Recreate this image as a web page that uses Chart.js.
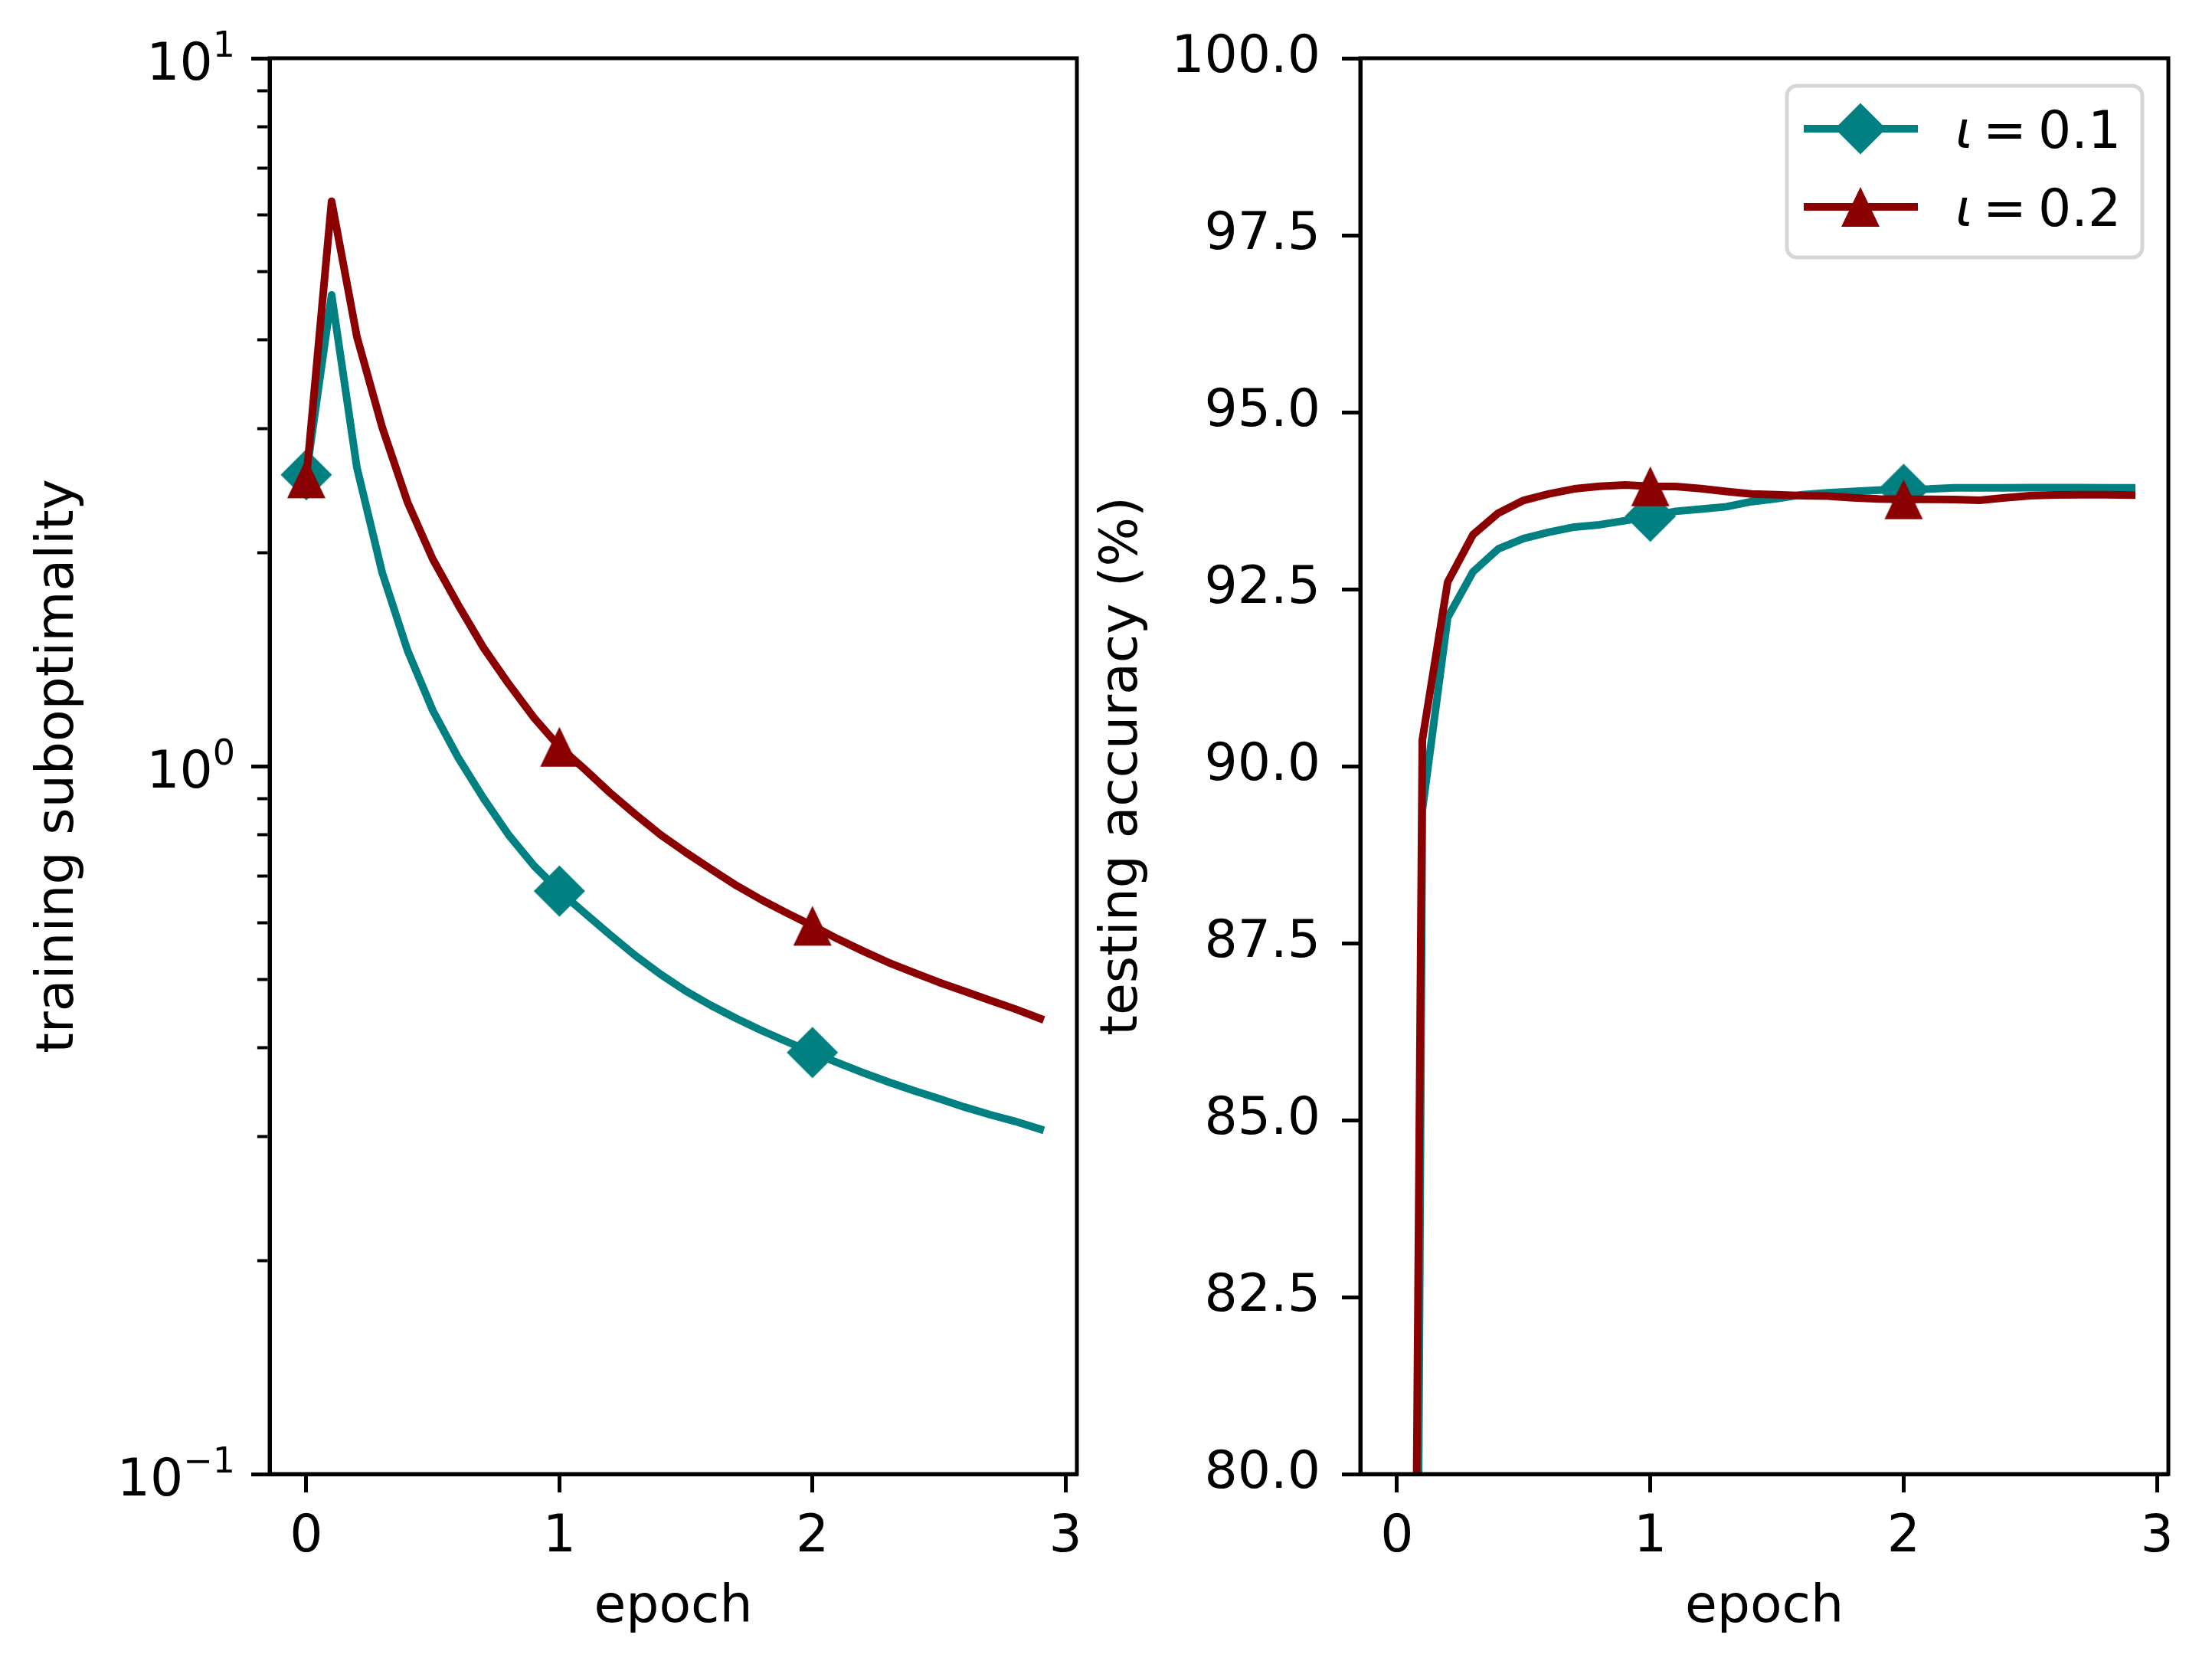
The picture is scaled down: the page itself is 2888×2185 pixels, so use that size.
<!DOCTYPE html>
<html>
<head>
<meta charset="utf-8">
<script src="https://cdn.jsdelivr.net/npm/chart.js@4.4.1/dist/chart.umd.min.js"></script>
<style>
html, body { margin: 0; padding: 0; background: #ffffff; }
#wrap { position: relative; width: 2888px; height: 2185px; background: #ffffff; }
canvas { position: absolute; left: 0; top: 0; }
</style>
</head>
<body>
<div id="wrap">
  <canvas id="lossChart" width="2888" height="2185"></canvas>
  <canvas id="accChart" width="2888" height="2185"></canvas>
</div>
<script>
// ---------------- data ----------------
const epochs = [0, 0.1, 0.2, 0.3, 0.4, 0.5, 0.6, 0.7, 0.8, 0.9,
                1.0, 1.1, 1.2, 1.3, 1.4, 1.5, 1.6, 1.7, 1.8, 1.9,
                2.0, 2.1, 2.2, 2.3, 2.4, 2.5, 2.6, 2.7, 2.8, 2.9];

const seriesLabels = ['ι = 0.1', 'ι = 0.2'];

// training suboptimality (log scale)
const lossIota01 = [2.58, 4.63, 2.64, 1.876, 1.457, 1.198, 1.028, 0.901, 0.799, 0.723,
                    0.666, 0.620, 0.578, 0.540, 0.508, 0.481, 0.459, 0.440, 0.423, 0.408,
                    0.394, 0.381, 0.369, 0.358, 0.348, 0.339, 0.330, 0.322, 0.315, 0.307];
const lossIota02 = [2.55, 6.28, 4.04, 3.01, 2.36, 1.96, 1.69, 1.47, 1.306, 1.17,
                    1.065, 0.990, 0.917, 0.855, 0.800, 0.755, 0.715, 0.678, 0.647, 0.620,
                    0.595, 0.570, 0.548, 0.528, 0.511, 0.495, 0.481, 0.467, 0.454, 0.440];

// testing accuracy (%)
const accIota01 = [26, 89.38, 92.10, 92.745, 93.07, 93.215, 93.305, 93.377, 93.41, 93.467,
                   93.53, 93.60, 93.63, 93.665, 93.737, 93.78, 93.835, 93.86, 93.88, 93.90,
                   93.91, 93.915, 93.93, 93.93, 93.93, 93.935, 93.935, 93.935, 93.93, 93.93];
const accIota02 = [44, 90.37, 92.60, 93.27, 93.575, 93.755, 93.845, 93.917, 93.953, 93.971,
                   93.953, 93.95, 93.92, 93.88, 93.845, 93.835, 93.82, 93.815, 93.79, 93.775,
                   93.77, 93.77, 93.765, 93.755, 93.79, 93.82, 93.83, 93.835, 93.835, 93.83];

// ticks
const xTicks = [0, 1, 2, 3];
const xTickLabels = ['0', '1', '2', '3'];
const lossTickValues = [0.1, 0.2, 0.3, 0.4, 0.5, 0.6, 0.7, 0.8, 0.9,
                        1, 2, 3, 4, 5, 6, 7, 8, 9, 10];
const lossMajorTicks = [0.1, 1, 10];
const lossTickBase = ['10', '10', '10'];
const lossTickExponents = ['−1', '0', '1'];
const accTicks = [80, 82.5, 85, 87.5, 90, 92.5, 95, 97.5, 100];
const accTickLabels = ['80.0', '82.5', '85.0', '87.5', '90.0', '92.5', '95.0', '97.5', '100.0'];

// ---------------- style ----------------
const FONT = 'DejaVu Sans';
const FS = 68;
const SUP_FS = 46;
const TEAL = '#008080';
const DARKRED = '#8b0000';
const X_MIN = -0.145, X_MAX = 3.045;

function makeDiamond(color) {
  const c = document.createElement('canvas');
  c.width = 68; c.height = 68;
  const g = c.getContext('2d');
  g.fillStyle = color;
  g.beginPath();
  g.moveTo(34, 0.5); g.lineTo(67.5, 34); g.lineTo(34, 67.5); g.lineTo(0.5, 34);
  g.closePath(); g.fill();
  return c;
}
function makeTriangle(color) {
  const c = document.createElement('canvas');
  c.width = 52; c.height = 54;
  const g = c.getContext('2d');
  g.fillStyle = color;
  g.beginPath();
  g.moveTo(26, 1); g.lineTo(51, 53); g.lineTo(1, 53);
  g.closePath(); g.fill();
  return c;
}
const diamondTeal = makeDiamond(TEAL);
const triangleRed = makeTriangle(DARKRED);

function pts(arr) { return epochs.map((e, i) => ({ x: e, y: arr[i] })); }

function makeDatasets(a, b) {
  const markerRadius = (ctx) => (ctx.dataIndex % 10 === 0 ? 30 : 0);
  return [
    { label: seriesLabels[0], data: pts(a), borderColor: TEAL, backgroundColor: TEAL,
      borderWidth: 10, pointStyle: diamondTeal, pointRadius: markerRadius, pointHoverRadius: 0,
      tension: 0, borderJoinStyle: 'round', borderCapStyle: 'square', order: 1, clip: 0 },
    { label: seriesLabels[1], data: pts(b), borderColor: DARKRED, backgroundColor: DARKRED,
      borderWidth: 10, pointStyle: triangleRed, pointRadius: markerRadius, pointHoverRadius: 0,
      tension: 0, borderJoinStyle: 'round', borderCapStyle: 'square', order: 0, clip: 0 }
  ];
}

function xScale() {
  return {
    type: 'linear', min: X_MIN, max: X_MAX,
    afterBuildTicks: (s) => { s.ticks = xTicks.map(v => ({ value: v })); },
    afterFit: (s) => { s.height = 261; },
    grid: { drawOnChartArea: false, drawTicks: true, tickLength: 24, tickWidth: 5, tickColor: '#000' },
    border: { display: true, color: '#000', width: 5 },
    ticks: { color: '#000', font: { family: FONT, size: FS }, padding: 19, maxRotation: 0,
             autoSkip: false, callback: (v, i) => xTickLabels[i] },
    title: { display: true, text: 'epoch', color: '#000',
             font: { family: FONT, size: FS, lineHeight: 1.2 }, padding: { top: 0, bottom: 45 } }
  };
}

const spines = {
  id: 'spines',
  afterDatasetsDraw(chart) {
    const { ctx, chartArea: a } = chart;
    ctx.save();
    ctx.strokeStyle = '#000';
    ctx.lineWidth = 5;
    ctx.strokeRect(a.left, a.top, a.right - a.left, a.bottom - a.top);
    ctx.restore();
  }
};

// power-of-ten labels (10 with a raised exponent) placed through the y scale
const powerLabels = {
  id: 'powerLabels',
  afterDraw(chart) {
    const scale = chart.scales.y;
    const ctx = chart.ctx;
    const right = scale.right - 24 - 21;
    ctx.save();
    ctx.fillStyle = '#000';
    ctx.textAlign = 'right';
    ctx.textBaseline = 'alphabetic';
    lossMajorTicks.forEach((v, k) => {
      const y = scale.getPixelForValue(v);
      ctx.font = SUP_FS + 'px "' + FONT + '"';
      const sup = lossTickExponents[k];
      ctx.fillText(sup, right, y - 2);
      const w = ctx.measureText(sup).width;
      ctx.font = FS + 'px "' + FONT + '"';
      ctx.fillText(lossTickBase[k], right - w, y + 28);
    });
    ctx.restore();
  }
};

const mplLegend = {
  id: 'mplLegend',
  afterDraw(chart) {
    const ctx = chart.ctx;
    ctx.save();
    ctx.beginPath();
    ctx.roundRect(2333, 112, 464, 224, 13);
    ctx.fillStyle = 'rgba(255,255,255,0.8)';
    ctx.fill();
    ctx.lineWidth = 5;
    ctx.strokeStyle = '#d6d6d6';
    ctx.stroke();
    chart.data.datasets.forEach((ds, i) => {
      const y = 168 + i * 102;
      ctx.beginPath();
      ctx.strokeStyle = ds.borderColor;
      ctx.lineWidth = ds.borderWidth;
      ctx.lineCap = 'butt';
      ctx.moveTo(2355, y); ctx.lineTo(2504, y);
      ctx.stroke();
      const img = ds.pointStyle;
      ctx.drawImage(img, 2429 - img.width / 2, y - img.height / 2);
      const label = ds.label;
      ctx.fillStyle = '#000';
      ctx.textBaseline = 'alphabetic';
      ctx.textAlign = 'left';
      ctx.font = 'italic ' + FS + 'px "' + FONT + '"';
      ctx.fillText(label.charAt(0), 2553, y + 25);
      const rest = label.slice(1).trim().split(' ');
      ctx.font = FS + 'px "' + FONT + '"';
      ctx.fillText(rest[0], 2589, y + 25);
      ctx.fillText(rest[1], 2661, y + 25);
    });
    ctx.restore();
  }
};

Chart.defaults.font.family = FONT;
Chart.defaults.color = '#000';

// ---------------- left: training suboptimality ----------------
new Chart(document.getElementById('lossChart'), {
  type: 'line',
  data: { datasets: makeDatasets(lossIota01, lossIota02) },
  options: {
    responsive: false, devicePixelRatio: 1, animation: false, events: [],
    layout: { autoPadding: false, padding: { left: 0, right: 1482, top: 76, bottom: 0 } },
    plugins: { legend: { display: false }, tooltip: { enabled: false } },
    scales: {
      x: xScale(),
      y: {
        type: 'logarithmic', min: 0.1, max: 10,
        afterBuildTicks: (s) => { s.ticks = lossTickValues.map(v => ({ value: v })); },
        afterFit: (s) => { s.width = 352; },
        grid: {
          drawOnChartArea: false, drawTicks: true, tickLength: 24, tickColor: '#000',
          tickWidth: (c) => (lossMajorTicks.includes(c.tick.value) ? 5 : 4),
          tickBorderDash: (c) => (lossMajorTicks.includes(c.tick.value) ? [] : [13.6, 200]),
          tickBorderDashOffset: (c) => (lossMajorTicks.includes(c.tick.value) ? 0 : 205.7)
        },
        border: { display: true, color: '#000', width: 5 },
        ticks: {
          color: '#000', font: { family: FONT, size: FS }, padding: 24, autoSkip: false,
          callback: () => ''
        },
        title: { display: true, text: 'training suboptimality', color: '#000',
                 font: { family: FONT, size: FS, lineHeight: 1.2 }, padding: { top: 37, bottom: 0 } }
      }
    }
  },
  plugins: [spines, powerLabels]
});

// ---------------- right: testing accuracy ----------------
new Chart(document.getElementById('accChart'), {
  type: 'line',
  data: { datasets: makeDatasets(accIota01, accIota02) },
  options: {
    responsive: false, devicePixelRatio: 1, animation: false, events: [],
    layout: { autoPadding: false, padding: { left: 1400, right: 57, top: 76, bottom: 0 } },
    plugins: { legend: { display: false }, tooltip: { enabled: false } },
    scales: {
      x: xScale(),
      y: {
        type: 'linear', min: 80, max: 100,
        afterBuildTicks: (s) => { s.ticks = accTicks.map(v => ({ value: v })); },
        afterFit: (s) => { s.width = 376; },
        grid: { drawOnChartArea: false, drawTicks: true, tickLength: 24, tickWidth: 5, tickColor: '#000' },
        border: { display: true, color: '#000', width: 5 },
        ticks: { color: '#000', font: { family: FONT, size: FS }, padding: 28, autoSkip: false,
                 callback: (v, i) => accTickLabels[i] },
        title: { display: true, text: 'testing accuracy (%)', color: '#000',
                 font: { family: FONT, size: FS, lineHeight: 1.2 }, padding: { top: 26, bottom: 0 } }
      }
    }
  },
  plugins: [spines, mplLegend]
});
</script>
</body>
</html>
